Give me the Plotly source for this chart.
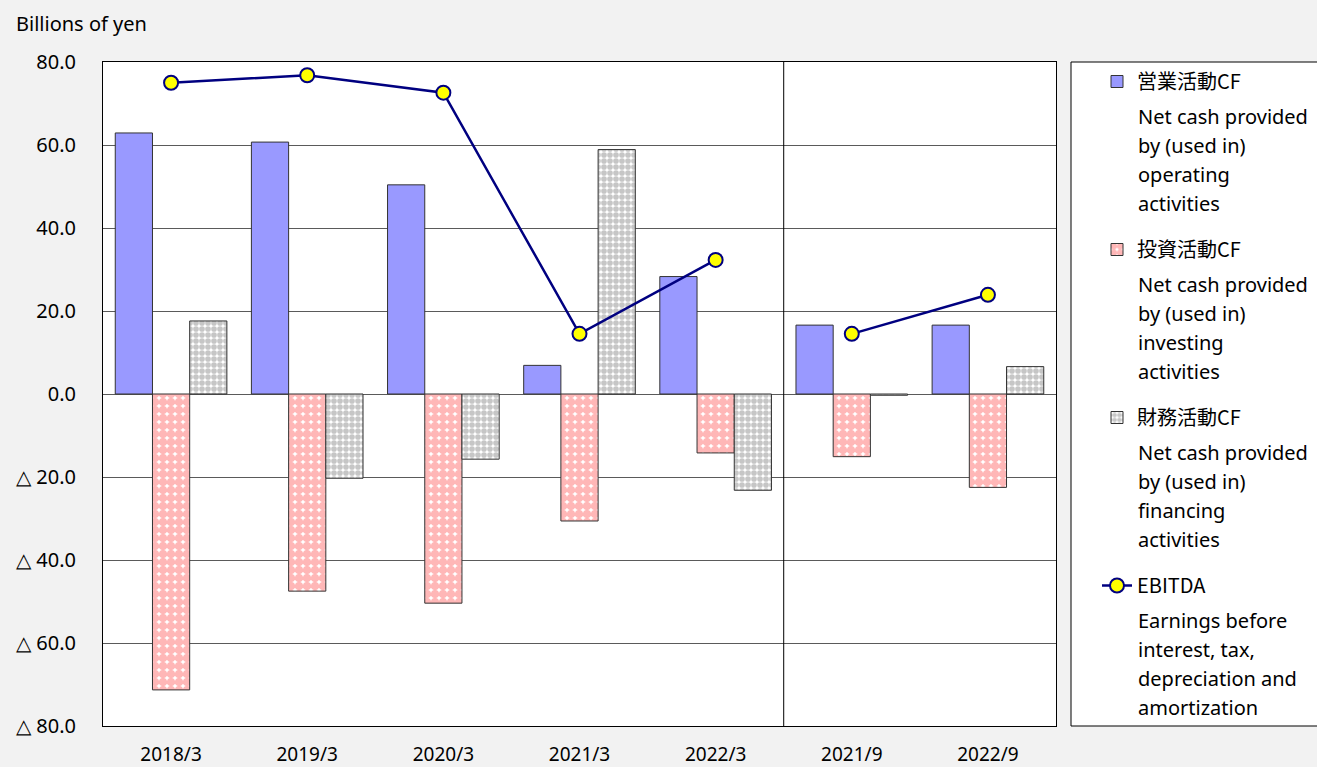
import plotly.graph_objects as go

categories = ["2018/3", "2019/3", "2020/3", "2021/3", "2022/3", "2021/9", "2022/9"]
operating_cf = [62.9, 60.7, 50.4, 6.9, 28.3, 16.6, 16.6]
investing_cf = [-71.3, -47.5, -50.4, -30.6, -14.2, -15.1, -22.5]
financing_cf = [17.6, -20.3, -15.7, 58.9, -23.2, -0.3, 6.6]
ebitda = [75.0, 76.8, 72.6, 14.5, 32.3, 14.5, 23.9]
n_annual = 5  # first five categories are fiscal years, the rest are half years

tick_vals = [80, 60, 40, 20, 0, -20, -40, -60, -80]
tick_text = ["80.0", "60.0", "40.0", "20.0", "0.0", "△ 20.0", "△ 40.0", "△ 60.0", "△ 80.0"]

series_names = ["営業活動CF", "投資活動CF", "財務活動CF", "EBITDA"]
series_desc = [
    ["Net cash provided", "by (used in)", "operating", "activities"],
    ["Net cash provided", "by (used in)", "investing", "activities"],
    ["Net cash provided", "by (used in)", "financing", "activities"],
    ["Earnings before", "interest, tax,", "depreciation and", "amortization"],
]

W, H = 1317, 767
ML, MR, MT, MB = 103, 261, 62, 41
PW, PH = W - ML - MR, H - MT - MB


def px_x(px):
    return (px - ML) / PW


def px_y(py):
    return (H - MB - py) / PH


fig = go.Figure()
fig.add_trace(go.Bar(
    x=categories, y=operating_cf, name=series_names[0], legendgroup="a",
    marker=dict(color="#9999FF", line=dict(color="#333333", width=1)),
))
fig.add_trace(go.Bar(
    x=categories, y=investing_cf, name=series_names[1], legendgroup="b",
    marker=dict(color="#FF8080", line=dict(color="#333333", width=1),
                pattern=dict(shape=".", fgcolor="#FF7070", bgcolor="#FFFFFF",
                             size=8, solidity=0.8)),
))
fig.add_trace(go.Bar(
    x=categories, y=financing_cf, name=series_names[2], legendgroup="c",
    marker=dict(color="#A0A0A0", line=dict(color="#333333", width=1),
                pattern=dict(shape=".", fgcolor="#8E8E8E", bgcolor="#FFFFFF",
                             size=6, solidity=0.7)),
))
fig.add_trace(go.Scatter(
    x=categories[:n_annual], y=ebitda[:n_annual], name=series_names[3], legendgroup="d",
    mode="lines+markers",
    line=dict(color="#000080", width=2.5),
    marker=dict(color="#FFFF00", size=14, line=dict(color="#000080", width=2)),
))
fig.add_trace(go.Scatter(
    x=categories[n_annual:], y=ebitda[n_annual:], showlegend=False, legendgroup="d",
    mode="lines+markers",
    line=dict(color="#000080", width=2.5),
    marker=dict(color="#FFFF00", size=14, line=dict(color="#000080", width=2)),
))

# separator between fiscal-year and half-year results
fig.add_shape(type="line", xref="x", yref="paper", x0=n_annual - 0.5, x1=n_annual - 0.5,
              y0=0, y1=1, line=dict(color="#000000", width=1))

# legend frame
fig.add_shape(type="rect", xref="paper", yref="paper", x0=px_x(1071), x1=px_x(1330),
              y0=0, y1=1, line=dict(color="#000000", width=1), fillcolor="#FFFFFF",
              layer="below")

# legend descriptions
entry_step = 168
for k, lines in enumerate(series_desc):
    title_y = 80 + k * entry_step
    for i, line in enumerate(lines):
        fig.add_annotation(text=line, xref="paper", yref="paper",
                           x=px_x(1136), y=px_y(title_y + 36 + i * 29.3),
                           xanchor="left", yanchor="middle", showarrow=False,
                           font=dict(size=20, color="#000000", family="Noto Sans"))

fig.add_annotation(text="Billions of yen", xref="paper", yref="paper", x=px_x(14), y=px_y(24),
                   xanchor="left", yanchor="middle", showarrow=False,
                   font=dict(size=20, color="#000000", family="Noto Sans"))

fig.update_layout(
    width=W, height=H,
    margin=dict(l=ML, r=MR, t=MT, b=MB, autoexpand=False),
    paper_bgcolor="#F2F2F2", plot_bgcolor="#FFFFFF",
    barmode="group", bargap=0.18, bargroupgap=0,
    font=dict(family="Noto Sans", size=20, color="#000000"),
    legend=dict(x=px_x(1097), y=1, xanchor="left", yanchor="top",
                bgcolor="rgba(0,0,0,0)", borderwidth=0,
                font=dict(size=20, family="Noto Sans CJK JP"),
                tracegroupgap=139),
    showlegend=True,
)
fig.update_xaxes(showline=True, linecolor="#000000", mirror=True, showgrid=False,
                 ticks="", ticklabelstandoff=11, tickfont=dict(size=19), automargin=False)
fig.update_yaxes(range=[-80, 80], tickvals=tick_vals, ticktext=tick_text,
                 showline=True, linecolor="#000000", mirror=True,
                 showgrid=True, gridcolor="#5A5A5A", gridwidth=1,
                 zeroline=True, zerolinecolor="#5A5A5A", zerolinewidth=1,
                 ticks="", ticklabelstandoff=22, tickfont=dict(size=20), automargin=False)

fig.write_html("out.html", config={"displayModeBar": False},
               post_script="document.body.style.margin='0px';")
